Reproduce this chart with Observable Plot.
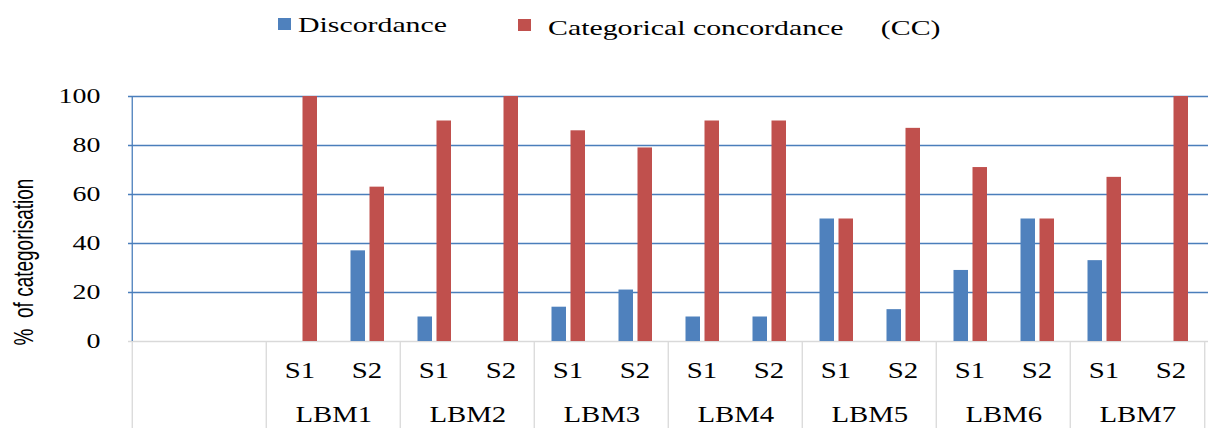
<!DOCTYPE html>
<html><head><meta charset="utf-8">
<script src="https://cdn.jsdelivr.net/npm/d3@7"></script>
<script src="https://cdn.jsdelivr.net/npm/@observablehq/plot@0.6"></script>
<style>
html,body{margin:0;padding:0;background:#fff;}
#chart{width:1210px;height:432px;overflow:hidden;}
svg{display:block;}
</style></head><body><div id="chart"></div>
<script>
// ---- data ----
const groups = ["LBM1", "LBM2", "LBM3", "LBM4", "LBM5", "LBM6", "LBM7"];
const sessions = ["S1", "S2"];
const blankSlots = ["blank1", "blank2"];
const seriesNames = ["Discordance", "Categorical concordance (CC)"];
const legendLabels = ["Discordance", "Categorical concordance     (CC)"];
// order: LBM1 S1, LBM1 S2, LBM2 S1, ...
const discordance = [0, 37, 10, 0, 14, 21, 10, 10, 50, 13, 29, 50, 33, 0];
const concordance = [100, 63, 90, 100, 86, 79, 90, 90, 50, 87, 71, 50, 67, 100];
const yTicks = [0, 20, 40, 60, 80, 100];
const yLabel = "%  of categorisation";

// ---- build tables ----
const slots = groups.flatMap(g => sessions.map(s => ({group: g, session: s, cat: g + " " + s})));
const cats = blankSlots.concat(slots.map(d => d.cat));
const rows = slots.flatMap((d, i) => [
  {...d, series: seriesNames[0], value: discordance[i]},
  {...d, series: seriesNames[1], value: concordance[i]}
]);

// ---- style ----
const W = 1210, LEG_H = 50, H = 382;
const SERIF = "'Liberation Serif','Times New Roman',serif";
const SANS = "'Liberation Sans',Arial,sans-serif";
const colors = ["#4f81bd", "#c0504d"];
const gridColor = "#4a7ebb", lightColor = "#d9d9d9";
const mL = 128, mR = 2, mT = 46, mB = 91;
const bw = (W - mL - mR) / cats.length;

function stretch(sel, k) {
  sel.each(function() {
    const L = this.getComputedTextLength();
    this.setAttribute("textLength", (L * k).toFixed(1));
    this.setAttribute("lengthAdjust", "spacingAndGlyphs");
  });
}

const root = d3.select("#chart");

// ---- legend ----
const leg = root.append("svg").attr("width", W).attr("height", LEG_H);
const legPos = [{sx: 278, sy: 18, tx: 298, ty: 32}, {sx: 518, sy: 19, tx: 548, ty: 35}];
seriesNames.forEach((s, i) => {
  const p = legPos[i];
  leg.append("rect").attr("x", p.sx).attr("y", p.sy).attr("width", 13).attr("height", 12).attr("fill", colors[i]);
  leg.append("text").attr("x", p.tx).attr("y", p.ty)
    .attr("font-family", SERIF).attr("font-size", 21).attr("fill", "#000")
    .style("white-space", "pre").text(legendLabels[i]);
});
stretch(leg.selectAll("text"), 1.42);

// ---- plot ----
const plot = Plot.plot({
  width: W, height: H,
  marginTop: mT, marginBottom: mB, marginLeft: mL, marginRight: mR,
  style: {fontFamily: SERIF, fontSize: "21px", color: "#000", background: "#fff", overflow: "visible"},
  x: {type: "band", domain: cats, padding: 0, axis: null},
  y: {domain: [0, 100], axis: null},
  color: {domain: seriesNames, range: colors},
  marks: [
    Plot.gridY(yTicks.filter(d => d > 0), {stroke: gridColor, strokeOpacity: 1, strokeWidth: 1.3}),
    Plot.ruleX([cats[0]].concat(groups.map(g => g + " S1")), {dx: -bw / 2, stroke: lightColor, strokeWidth: 1.3, insetTop: H - mT - mB, insetBottom: -87}),
    Plot.ruleX([cats[cats.length - 1]], {dx: bw / 2, stroke: lightColor, strokeWidth: 1.3, insetTop: H - mT - mB, insetBottom: -87}),
    Plot.ruleY([0], {stroke: lightColor, strokeWidth: 1.5}),
    Plot.ruleX([cats[0]], {dx: -bw / 2, stroke: gridColor, strokeWidth: 1.3}),
    Plot.barY(rows.filter(d => d.series === seriesNames[0]), {x: "cat", y: "value", fill: "series", insetLeft: 17.5, insetRight: 35}),
    Plot.barY(rows.filter(d => d.series === seriesNames[1]), {x: "cat", y: "value", fill: "series", insetLeft: 36.5, insetRight: 16}),
    Plot.axisY(yTicks, {tickSize: 0, tickPadding: 28, fontSize: 21, fontFamily: SERIF, label: null, fill: "#000", className: "ytk"}),
    Plot.text(slots, {x: "cat", text: "session", frameAnchor: "bottom", lineAnchor: "bottom", dy: 36, fontSize: 23, fontFamily: SERIF, fill: "#000", className: "xlab"}),
    Plot.text(groups, {x: g => g + " S1", text: d => d, frameAnchor: "bottom", lineAnchor: "bottom", dx: bw / 2, dy: 80.5, fontSize: 23, fontFamily: SERIF, fill: "#000", className: "xlab"})
  ]
});
root.node().appendChild(plot);

const svg = d3.select(plot);
stretch(svg.selectAll(".ytk text"), 1.33);
stretch(svg.selectAll(".xlab text"), 1.25);
// y-axis title
svg.append("text")
  .attr("transform", `translate(24,${(mT + H - 4) / 2}) rotate(-90) scale(1,1.45)`)
  .attr("text-anchor", "middle").attr("dominant-baseline", "central")
  .attr("font-family", SANS).attr("font-size", 19).attr("fill", "#000")
  .style("white-space", "pre")
  .text(yLabel);
</script></body></html>
